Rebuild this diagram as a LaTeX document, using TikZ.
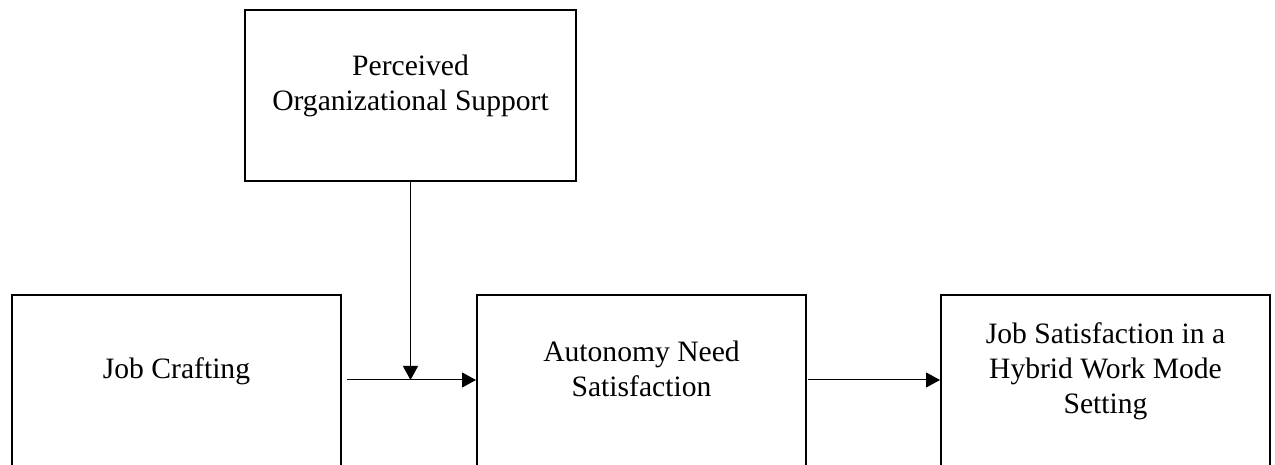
\documentclass[tikz,border=0pt]{standalone}
\usepackage{fontspec}
\setmainfont{Liberation Serif}
\usetikzlibrary{arrows.meta,positioning}

\begin{document}
\begin{tikzpicture}[x=0.5pt, y=0.5pt, every node/.style={font=\fontsize{14.8}{17.5}\selectfont},
    box/.style={draw, line width=1pt, inner sep=0pt, minimum width=164.5pt, minimum height=100pt},
    boxtext/.style={anchor=base, align=center, inner sep=0pt},
    link/.style={-{Triangle[length=7pt,width=7.5pt]}, line width=0.5pt}]
      \useasboundingbox (0,0) rectangle (1275,465);
      \clip (0,0) rectangle (1275,465);

      \coordinate (lvl) at (0,85);

      \node[box, minimum width=165.5pt, minimum height=85.5pt] (pos) at (410.5,369.5) {};
      \node[box] (jc) at (176.5,70) {};
      \node[box] (an) at (641.5,70) {};
      \node[box] (js) at (1105.5,70) {};

      % base anchor sits on the last line
      \node[boxtext] (postxt) at ([yshift=-51pt]pos.north) {Perceived\\Organizational Support};
      \node[boxtext] (jctxt) at ([yshift=-42.5pt]jc.north) {Job Crafting};
      \node[boxtext] (antxt) at ([yshift=-51.5pt]an.north) {Autonomy Need\\Satisfaction};
      \node[boxtext] (jstxt) at ([yshift=-60pt]js.north) {Job Satisfaction in a\\Hybrid Work Mode\\Setting};

      \draw[link, shorten <=2.5pt] (jc.east |- lvl) -- (an.west |- lvl);
      \draw[link] (pos.south) -- (pos.south |- lvl);
      \draw[link, shorten <=0.5pt] (an.east |- lvl) -- (js.west |- lvl);
    \end{tikzpicture}
\end{document}
